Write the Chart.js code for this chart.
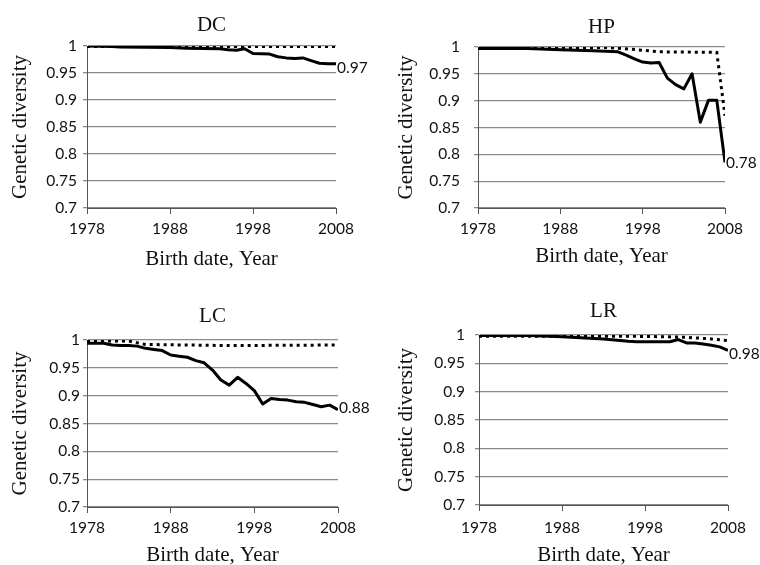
<!DOCTYPE html>
<html>
<head>
<meta charset="utf-8">
<script src="https://cdn.jsdelivr.net/npm/chart.js@4.4.1/dist/chart.umd.min.js"></script>
<style>
    body { margin: 0; background: #fff; }
    #lienzo { position: relative; width: 760px; height: 565px; overflow: hidden; }
    #lienzo canvas { position: absolute; }
</style>
</head>
<body>
<div id="lienzo">
    <canvas id="grafica-dc" width="380" height="290" style="left:0px;top:0px"></canvas>
    <canvas id="grafica-hp" width="380" height="290" style="left:380px;top:0px"></canvas>
    <canvas id="grafica-lc" width="380" height="290" style="left:0px;top:280px"></canvas>
    <canvas id="grafica-lr" width="380" height="290" style="left:380px;top:280px"></canvas>
</div>
<script>
// datos
const xTicks = [1978, 1988, 1998, 2008];
const yTicks = [0.7, 0.75, 0.8, 0.85, 0.9, 0.95, 1];

const dcAniosSolida = [1978, 1981, 1982, 1988, 1990, 1994, 1995, 1996, 1997, 1998, 2000, 2001, 2002, 2003, 2004, 2005, 2006, 2007, 2008];
const dcSolida = [1.000, 0.999, 0.998, 0.997, 0.996, 0.995, 0.993, 0.992, 0.995, 0.986, 0.985, 0.980, 0.978, 0.977, 0.978, 0.973, 0.968, 0.967, 0.967];
const dcAniosPunteada = [1978, 1998, 2008];
const dcPunteada = [0.999, 0.999, 0.999];

const hpAniosSolida = [1978, 1984, 1988, 1992, 1995, 1996, 1997, 1998, 1999, 2000, 2001, 2002, 2003, 2004, 2005, 2006, 2007, 2008];
const hpSolida = [0.997, 0.997, 0.995, 0.993, 0.991, 0.985, 0.978, 0.972, 0.970, 0.971, 0.942, 0.930, 0.922, 0.950, 0.860, 0.901, 0.901, 0.785];
const hpAniosPunteada = [1978, 1994, 1998, 2000, 2007, 2008];
const hpPunteada = [0.999, 0.999, 0.994, 0.991, 0.990, 0.872];

const lcAniosSolida = [1978, 1979, 1980, 1981, 1982, 1983, 1984, 1985, 1986, 1987, 1988, 1989, 1990, 1991, 1992, 1993, 1994, 1995, 1996, 1997, 1998, 1999, 2000, 2001, 2002, 2003, 2004, 2005, 2006, 2007, 2008];
const lcSolida = [0.994, 0.994, 0.994, 0.991, 0.990, 0.990, 0.989, 0.985, 0.983, 0.981, 0.973, 0.971, 0.969, 0.963, 0.959, 0.946, 0.928, 0.919, 0.933, 0.922, 0.909, 0.885, 0.895, 0.893, 0.892, 0.889, 0.888, 0.884, 0.880, 0.883, 0.875];
const lcAniosPunteada = [1978, 1983, 1985, 1995, 2008];
const lcPunteada = [0.998, 0.998, 0.992, 0.990, 0.991];

const lrAniosSolida = [1978, 1984, 1988, 1993, 1996, 1997, 2001, 2002, 2003, 2004, 2005, 2006, 2007, 2008];
const lrSolida = [0.999, 0.999, 0.997, 0.993, 0.989, 0.988, 0.988, 0.992, 0.986, 0.986, 0.984, 0.982, 0.979, 0.973];
const lrAniosPunteada = [1978, 1995, 2000, 2003, 2006, 2008];
const lrPunteada = [0.998, 0.998, 0.997, 0.996, 0.993, 0.990];

Chart.defaults.font.family = 'Lato';
Chart.defaults.font.size = 15.5;
Chart.defaults.color = '#111';

//función principal al iniciar
document.addEventListener('DOMContentLoaded', function () {
    crearPanel('grafica-dc', 'DC', dcAniosSolida, dcSolida, dcAniosPunteada, dcPunteada, '0.97',
        { l: 87, r: 336, t: 46, b: 208, titulo: 25, yTitulo: 20, xTitulo: 259, yPad: 6, xPad: 6, dy: 4 });
    crearPanel('grafica-hp', 'HP', hpAniosSolida, hpSolida, hpAniosPunteada, hpPunteada, '0.78',
        { l: 98, r: 345, t: 47, b: 208, titulo: 27.5, yTitulo: 26, xTitulo: 256, yPad: 14, xPad: 6, dy: 1 });
    crearPanel('grafica-lc', 'LC', lcAniosSolida, lcSolida, lcAniosPunteada, lcPunteada, '0.88',
        { l: 87, r: 338, t: 60, b: 227, titulo: 36, yTitulo: 20.5, xTitulo: 275, yPad: 3, xPad: 6, dy: -2 });
    crearPanel('grafica-lr', 'LR', lrAniosSolida, lrSolida, lrAniosPunteada, lrPunteada, '0.98',
        { l: 99, r: 348, t: 55, b: 225, titulo: 31, yTitulo: 26, xTitulo: 275, yPad: 10, xPad: 8, dy: 4 });
});

function puntos(anios, valores) {
    return anios.map((a, i) => ({ x: a, y: valores[i] }));
}

function crearPanel(idCanvas, titulo, aniosSolida, solida, aniosPunteada, punteada, etiqueta, caja) {
    const canvas = document.getElementById(idCanvas);
    const ancho = canvas.width;
    const alto = canvas.height;

    // titulo centrado sobre el area de la grafica
    const tituloPanel = {
        id: 'tituloPanel',
        afterDraw(chart) {
            const ctx = chart.ctx;
            const area = chart.chartArea;
            ctx.save();
            ctx.font = '21px "Liberation Serif"';
            ctx.fillStyle = '#111';
            ctx.textAlign = 'center';
            ctx.textBaseline = 'middle';
            ctx.fillText(titulo, (area.left + area.right) / 2, caja.titulo);
            ctx.restore();
        }
    };

    // valor final junto al ultimo punto de la linea solida
    const etiquetaFinal = {
        id: 'etiquetaFinal',
        afterDatasetsDraw(chart) {
            const meta = chart.getDatasetMeta(0);
            const ultimo = meta.data[meta.data.length - 1];
            const ctx = chart.ctx;
            ctx.save();
            ctx.font = '15.5px Lato';
            ctx.fillStyle = '#111';
            ctx.textAlign = 'left';
            ctx.textBaseline = 'middle';
            ctx.fillText(etiqueta, ultimo.x + 1, ultimo.y + caja.dy);
            ctx.restore();
        }
    };

    const config = {
        type: 'line',
        data: {
            datasets: [{
                label: 'solida',
                data: puntos(aniosSolida, solida),
                borderColor: '#000',
                borderWidth: 3,
                borderJoinStyle: 'round',
                pointRadius: 0,
                tension: 0
            }, {
                label: 'punteada',
                data: puntos(aniosPunteada, punteada),
                borderColor: '#000',
                borderWidth: 3,
                borderDash: [3, 4],
                pointRadius: 0,
                tension: 0
            }]
        },
        options: {
            responsive: false,
            animation: false,
            layout: {
                padding: { left: 0, top: caja.t, right: ancho - caja.r, bottom: 0 }
            },
            plugins: {
                legend: { display: false },
                title: { display: false },
                tooltip: { enabled: false }
            },
            scales: {
                x: {
                    type: 'linear',
                    min: 1978,
                    max: 2008,
                    afterBuildTicks: scale => { scale.ticks = xTicks.map(v => ({ value: v })); },
                    afterFit: scale => { scale.height = alto - caja.b; },
                    ticks: {
                        padding: caja.xPad,
                        maxRotation: 0,
                        callback: v => String(v)
                    },
                    grid: {
                        drawOnChartArea: false,
                        drawTicks: true,
                        tickLength: 6,
                        color: '#555'
                    },
                    border: { color: '#555', width: 1 },
                    title: {
                        display: true,
                        text: 'Birth date, Year',
                        font: { family: 'Liberation Serif', size: 21 },
                        color: '#111',
                        padding: { top: 0, bottom: alto - caja.xTitulo - 12.6 }
                    }
                },
                y: {
                    min: 0.7,
                    max: 1,
                    afterBuildTicks: scale => { scale.ticks = yTicks.map(v => ({ value: v })); },
                    afterFit: scale => { scale.width = caja.l; },
                    ticks: {
                        padding: caja.yPad,
                        callback: v => String(v)
                    },
                    grid: {
                        color: '#8a8a8a',
                        lineWidth: 1.3,
                        drawTicks: true,
                        tickLength: 4
                    },
                    border: { color: '#555', width: 1 },
                    title: {
                        display: true,
                        text: 'Genetic diversity',
                        font: { family: 'Liberation Serif', size: 21 },
                        color: '#111',
                        padding: { top: caja.yTitulo - 12.6, bottom: 0 }
                    }
                }
            }
        },
        plugins: [tituloPanel, etiquetaFinal]
    };

    new Chart(canvas.getContext('2d'), config);
}
</script>
</body>
</html>
